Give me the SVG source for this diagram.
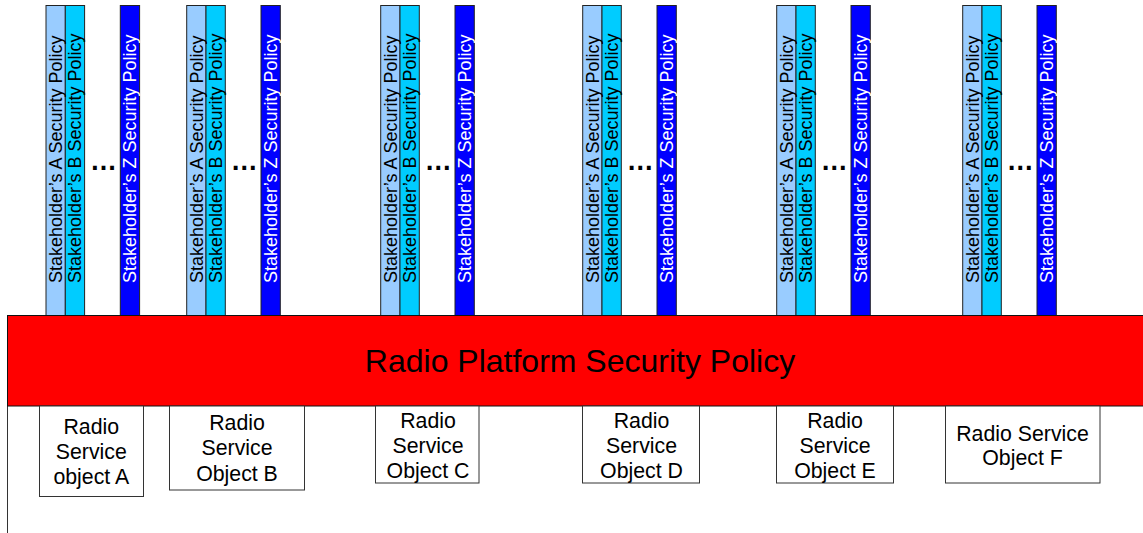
<svg xmlns="http://www.w3.org/2000/svg" width="1143" height="533" viewBox="0 0 1143 533">
<style>
.bar{stroke:#222;stroke-width:1}
.a{fill:#99CCFF}
.b{fill:#00CCFF}
.z{fill:#0000FF}
.vt{font-family:"Liberation Sans",Arial,sans-serif;font-size:18px;fill:#000}
.vtw{font-family:"Liberation Sans",Arial,sans-serif;font-size:18px;fill:#fff}
.dots{font-family:"Liberation Sans",Arial,sans-serif;font-size:27px;font-weight:bold;fill:#000;text-anchor:middle}
.box{fill:#fff;stroke:#333;stroke-width:1}
.bt{font-family:"Liberation Sans",Arial,sans-serif;font-size:21.3px;fill:#000;text-anchor:middle}
.platform{fill:#FF0000;stroke:#111;stroke-width:1}
.pt{font-family:"Liberation Sans",Arial,sans-serif;font-size:32px;fill:#000;text-anchor:middle}
</style>

<g id="stack1" transform="translate(46,0)">
<rect class="bar a" x="0" y="5.5" width="19.3" height="310"/>
<rect class="bar b" x="19.3" y="5.5" width="19.3" height="310"/>
<rect class="bar z" x="74.3" y="5.5" width="19.3" height="310"/>
<text class="vt" transform="translate(16,283) rotate(-90)">Stakeholder’s A Security Policy</text>
<text class="vt" transform="translate(35.3,283) rotate(-90)">Stakeholder’s B Security Policy</text>
<text class="vtw" transform="translate(90.4,283) rotate(-90)">Stakeholder’s Z Security Policy</text>
<text class="dots" x="57.5" y="170">…</text>
</g>

<g id="stack2" transform="translate(186.7,0)">
<rect class="bar a" x="0" y="5.5" width="19.3" height="310"/>
<rect class="bar b" x="19.3" y="5.5" width="19.3" height="310"/>
<rect class="bar z" x="74.3" y="5.5" width="19.3" height="310"/>
<text class="vt" transform="translate(16,283) rotate(-90)">Stakeholder’s A Security Policy</text>
<text class="vt" transform="translate(35.3,283) rotate(-90)">Stakeholder’s B Security Policy</text>
<text class="vtw" transform="translate(90.4,283) rotate(-90)">Stakeholder’s Z Security Policy</text>
<text class="dots" x="57.5" y="170">…</text>
</g>

<g id="stack3" transform="translate(380.7,0)">
<rect class="bar a" x="0" y="5.5" width="19.3" height="310"/>
<rect class="bar b" x="19.3" y="5.5" width="19.3" height="310"/>
<rect class="bar z" x="74.3" y="5.5" width="19.3" height="310"/>
<text class="vt" transform="translate(16,283) rotate(-90)">Stakeholder’s A Security Policy</text>
<text class="vt" transform="translate(35.3,283) rotate(-90)">Stakeholder’s B Security Policy</text>
<text class="vtw" transform="translate(90.4,283) rotate(-90)">Stakeholder’s Z Security Policy</text>
<text class="dots" x="57.5" y="170">…</text>
</g>

<g id="stack4" transform="translate(582.7,0)">
<rect class="bar a" x="0" y="5.5" width="19.3" height="310"/>
<rect class="bar b" x="19.3" y="5.5" width="19.3" height="310"/>
<rect class="bar z" x="74.3" y="5.5" width="19.3" height="310"/>
<text class="vt" transform="translate(16,283) rotate(-90)">Stakeholder’s A Security Policy</text>
<text class="vt" transform="translate(35.3,283) rotate(-90)">Stakeholder’s B Security Policy</text>
<text class="vtw" transform="translate(90.4,283) rotate(-90)">Stakeholder’s Z Security Policy</text>
<text class="dots" x="57.5" y="170">…</text>
</g>

<g id="stack5" transform="translate(776.7,0)">
<rect class="bar a" x="0" y="5.5" width="19.3" height="310"/>
<rect class="bar b" x="19.3" y="5.5" width="19.3" height="310"/>
<rect class="bar z" x="74.3" y="5.5" width="19.3" height="310"/>
<text class="vt" transform="translate(16,283) rotate(-90)">Stakeholder’s A Security Policy</text>
<text class="vt" transform="translate(35.3,283) rotate(-90)">Stakeholder’s B Security Policy</text>
<text class="vtw" transform="translate(90.4,283) rotate(-90)">Stakeholder’s Z Security Policy</text>
<text class="dots" x="57.5" y="170">…</text>
</g>

<g id="stack6" transform="translate(962.7,0)">
<rect class="bar a" x="0" y="5.5" width="19.3" height="310"/>
<rect class="bar b" x="19.3" y="5.5" width="19.3" height="310"/>
<rect class="bar z" x="74.3" y="5.5" width="19.3" height="310"/>
<text class="vt" transform="translate(16,283) rotate(-90)">Stakeholder’s A Security Policy</text>
<text class="vt" transform="translate(35.3,283) rotate(-90)">Stakeholder’s B Security Policy</text>
<text class="vtw" transform="translate(90.4,283) rotate(-90)">Stakeholder’s Z Security Policy</text>
<text class="dots" x="57.5" y="170">…</text>
</g>

<g id="frame">
<line x1="7.5" y1="406" x2="7.5" y2="533" stroke="#333" stroke-width="1"/>
</g>

<g id="platform">
<rect class="platform" x="7.5" y="315.5" width="1150" height="90.5"/>
<text class="pt" x="580" y="371.5">Radio Platform Security Policy</text>
</g>

<g id="objA">
<rect class="box" x="39.5" y="406" width="104" height="90.5"/>
<text class="bt" x="91.3" y="433.5">Radio</text>
<text class="bt" x="91.3" y="459">Service</text>
<text class="bt" x="91.3" y="484">object A</text>
</g>

<g id="objB">
<rect class="box" x="169.5" y="406" width="135" height="84"/>
<text class="bt" x="237" y="430">Radio</text>
<text class="bt" x="237" y="455">Service</text>
<text class="bt" x="237" y="480.5">Object B</text>
</g>

<g id="objC">
<rect class="box" x="375.5" y="406" width="103.5" height="77"/>
<text class="bt" x="428" y="427.5">Radio</text>
<text class="bt" x="428" y="452.5">Service</text>
<text class="bt" x="428" y="477.5">Object C</text>
</g>

<g id="objD">
<rect class="box" x="582.5" y="406" width="117" height="77"/>
<text class="bt" x="641.5" y="427.5">Radio</text>
<text class="bt" x="641.5" y="452.5">Service</text>
<text class="bt" x="641.5" y="477.5">Object D</text>
</g>

<g id="objE">
<rect class="box" x="776.5" y="406" width="117" height="77"/>
<text class="bt" x="835" y="427.5">Radio</text>
<text class="bt" x="835" y="452.5">Service</text>
<text class="bt" x="835" y="477.5">Object E</text>
</g>

<g id="objF">
<rect class="box" x="945.5" y="406" width="154.5" height="77"/>
<text class="bt" x="1022.5" y="441">Radio Service</text>
<text class="bt" x="1022.5" y="464.5">Object F</text>
</g>

<g id="connectors"/>
</svg>
